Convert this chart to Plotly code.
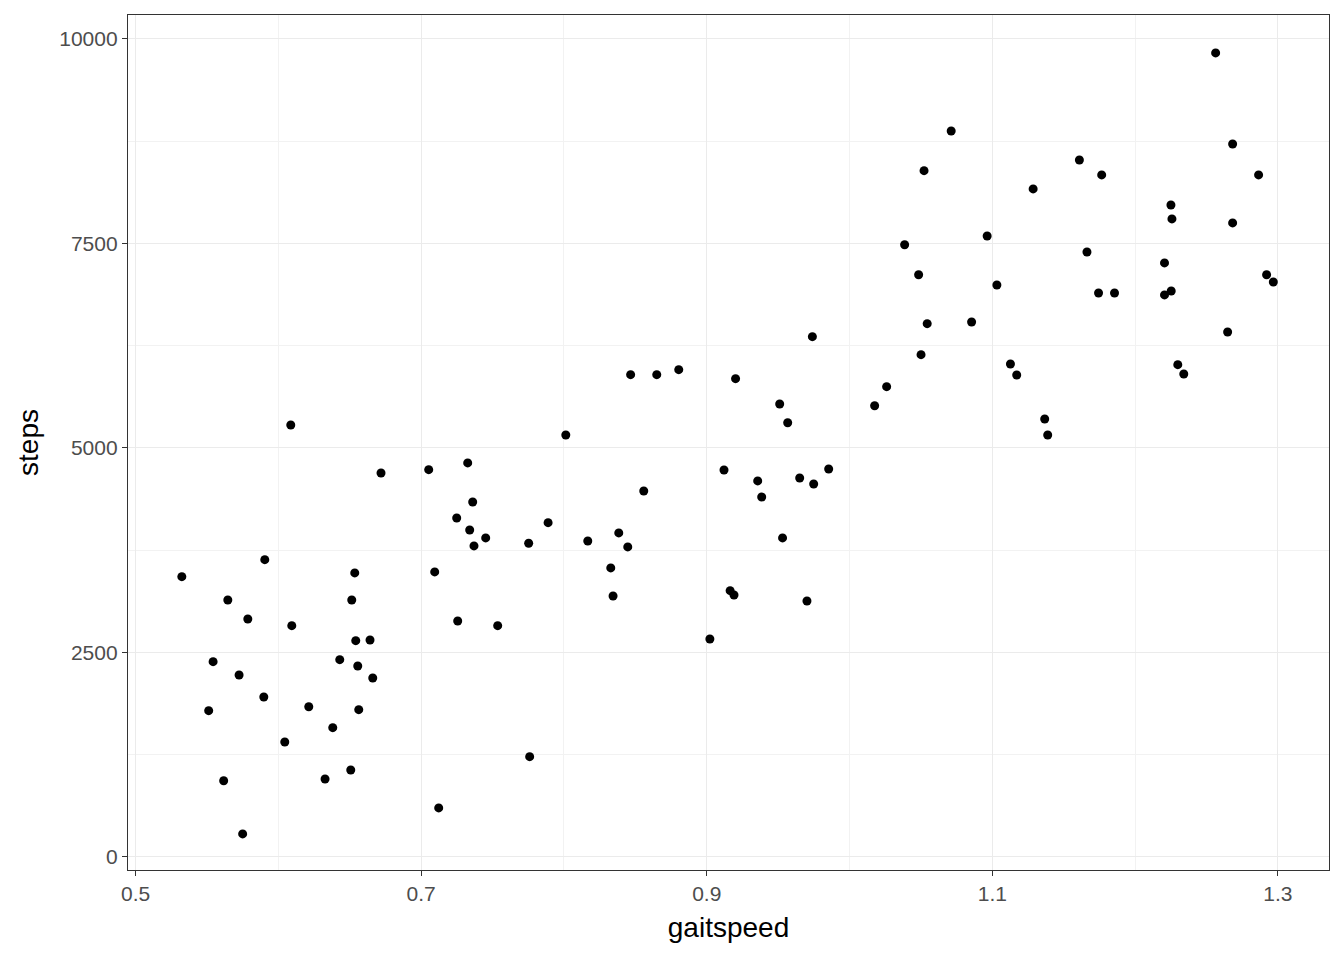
import plotly.graph_objects as go

gaitspeed = [
    0.6087,
    0.6719, 0.7053, 0.7326, 0.7361, 0.7249, 0.7340, 0.7452, 0.7370, 0.7753,
    0.5905, 0.5324, 0.6535, 0.7095, 0.5646, 0.6514, 0.5786, 0.6094, 0.6542,
    0.6642, 0.7256, 0.7536, 0.5543, 0.6430, 0.5725, 0.6556, 0.6661, 0.5898,
    0.5512, 0.6213, 0.6563, 0.6381, 0.6045, 0.7760, 0.5617, 0.6327, 0.6507,
    0.7123, 0.5750,
    0.7889, 0.8559, 0.8167, 0.8384, 0.8447, 0.8328, 0.8344, 0.9121, 0.9357,
    0.9385, 0.9651, 0.9749, 0.9854, 0.9531, 0.9164, 0.9191, 0.9702, 0.9022,
    0.8013, 0.8467, 0.8650, 0.8804, 0.9202, 0.9511, 0.9567, 0.9740, 1.0176,
    1.0260, 1.0386, 1.0484, 1.0522, 1.0544, 1.0501,
    1.0712, 1.0964, 1.1286, 1.1610, 1.1766, 1.0855, 1.1032, 1.1663, 1.1744,
    1.1856, 1.1127, 1.1171, 1.1367, 1.1388, 1.2564, 1.2683, 1.2865, 1.2251,
    1.2258, 1.2683, 1.2206, 1.2206, 1.2253, 1.2921, 1.2968, 1.2648, 1.2299,
    1.2341,
]
steps = [
    5279,
    4692, 4733, 4815, 4338, 4142, 3995, 3898, 3800, 3833,
    3632, 3424, 3470, 3482, 3139, 3139, 2907, 2825, 2642,
    2650, 2882, 2825, 2385, 2409, 2222, 2332, 2185, 1953,
    1786, 1834, 1798, 1578, 1403, 1223, 929, 950, 1060,
    596, 278,
    4085, 4472, 3861, 3959, 3788, 3531, 3188, 4729, 4595,
    4399, 4631, 4558, 4741, 3898, 3253, 3200, 3127, 2662,
    5157, 5895, 5895, 5956, 5846, 5536, 5307, 6359, 5515,
    5748, 7484, 7117, 8389, 6518, 6139,
    8875, 7591, 8166, 8520, 8337, 6539, 6991, 7395, 6893,
    6893, 6025, 5891, 5353, 5157, 9829, 8716, 8337, 7970,
    7799, 7750, 7261, 6870, 6918, 7117, 7028, 6417, 6017,
    5903,
]

x_ticks = [0.5, 0.7, 0.9, 1.1, 1.3]
x_tick_labels = ["0.5", "0.7", "0.9", "1.1", "1.3"]
x_minor = [0.6, 0.8, 1.0, 1.2]
y_ticks = [0, 2500, 5000, 7500, 10000]
y_tick_labels = ["0", "2500", "5000", "7500", "10000"]
y_minor = [1250, 3750, 6250, 8750]

FONT = "Liberation Sans, Arial, sans-serif"

fig = go.Figure()
fig.add_trace(go.Scatter(
    x=gaitspeed, y=steps, mode="markers",
    marker=dict(color="black", size=9, line=dict(width=0)),
    showlegend=False, hoverinfo="x+y",
))

axis_common = dict(
    showline=True, linecolor="#333333", linewidth=1.3, mirror=True,
    ticks="outside", ticklen=5, tickwidth=1.2, tickcolor="#333333",
    showgrid=True, gridcolor="#EBEBEB", gridwidth=1.3,
    zeroline=False,
    tickfont=dict(family=FONT, size=21, color="#4D4D4D"),
    title_font=dict(family=FONT, size=28, color="black"),
)

fig.update_xaxes(
    **axis_common,
    range=[0.4947, 1.3358],
    tickvals=x_ticks, ticktext=x_tick_labels,
    minor=dict(showgrid=True, gridcolor="#F2F2F2", gridwidth=0.7,
               tickvals=x_minor, ticks=""),
    title_text="gaitspeed", title_standoff=13,
)
fig.update_yaxes(
    **axis_common,
    range=[-163, 10293],
    tickvals=y_ticks, ticktext=y_tick_labels,
    minor=dict(showgrid=True, gridcolor="#F2F2F2", gridwidth=0.7,
               tickvals=y_minor, ticks=""),
    title_text="steps", title_standoff=12,
)

fig.update_layout(
    width=1344, height=960,
    margin=dict(l=120, r=23, t=7, b=98),
    plot_bgcolor="white", paper_bgcolor="white",
    font=dict(family=FONT),
)

fig.write_html("out.html")
